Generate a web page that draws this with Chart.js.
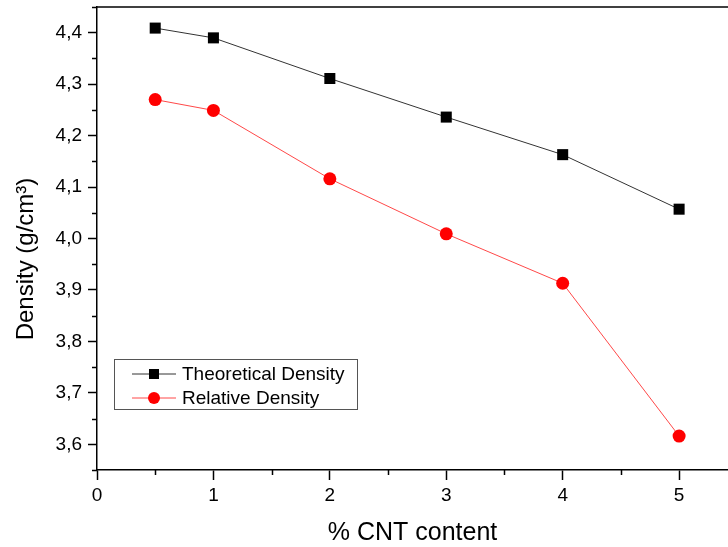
<!DOCTYPE html>
<html>
<head>
<meta charset="utf-8">
<script src="https://cdn.jsdelivr.net/npm/chart.js@4.4.1/dist/chart.umd.min.js"></script>
<style>
  html, body { margin: 0; padding: 0; background: #fff; overflow: hidden; }
  #wrap { width: 728px; height: 547px; }
</style>
</head>
<body>
<div id="wrap"><canvas id="densityChart" width="728" height="547"></canvas></div>
<script>
// Data
const cntContent = [0.5, 1, 2, 3, 4, 5];
const theoreticalDensity = [4.409, 4.390, 4.311, 4.236, 4.163, 4.057];
const relativeDensity = [4.270, 4.249, 4.116, 4.009, 3.913, 3.616];

const xTicks = [0, 1, 2, 3, 4, 5];
const xMinorTicks = [0.5, 1.5, 2.5, 3.5, 4.5];
const yTicks = [3.6, 3.7, 3.8, 3.9, 4.0, 4.1, 4.2, 4.3, 4.4];
const yMinorTicks = [3.55, 3.65, 3.75, 3.85, 3.95, 4.05, 4.15, 4.25, 4.35, 4.45];

const seriesLabels = ['Theoretical Density', 'Relative Density'];
const yTitle = 'Density (g/cm³)';

const FONT = 'Arial, "Liberation Sans", sans-serif';

function toPoints(xs, ys) {
    return xs.map((x, i) => ({ x: x, y: ys[i] }));
}

// Short minor ticks, top frame line and the y title (sits a bit below centre in the original)
const framePlugin = {
    id: 'frame',
    afterDraw(chart) {
        const ctx = chart.ctx;
        const ca = chart.chartArea;
        const xs = chart.scales.x;
        const ys = chart.scales.y;
        ctx.save();
        ctx.strokeStyle = '#000';
        ctx.lineWidth = 1.5;
        ctx.beginPath();
        ctx.moveTo(ca.left, ca.top);
        ctx.lineTo(chart.width, ca.top);
        ctx.stroke();

        ctx.beginPath();
        xMinorTicks.forEach(v => {
            const px = Math.round(xs.getPixelForValue(v)) + 0.5;
            ctx.moveTo(px, ca.bottom);
            ctx.lineTo(px, ca.bottom + 5);
        });
        yMinorTicks.forEach(v => {
            const py = Math.round(ys.getPixelForValue(v)) + 0.5;
            ctx.moveTo(ca.left, py);
            ctx.lineTo(ca.left - 5, py);
        });
        ctx.stroke();

        ctx.translate(33, 259);
        ctx.rotate(-Math.PI / 2);
        ctx.fillStyle = '#000';
        ctx.font = '24px ' + FONT;
        ctx.textAlign = 'center';
        ctx.textBaseline = 'alphabetic';
        ctx.fillText(yTitle, 0, 0);
        ctx.restore();
    }
};

// Legend box drawn inside the plot, like the original
const boxLegendPlugin = {
    id: 'boxLegend',
    afterDraw(chart) {
        const ctx = chart.ctx;
        const ca = chart.chartArea;
        const bx = ca.left + 17;
        const by = ca.top + 352;
        const bw = 243;
        const bh = 50;
        ctx.save();
        ctx.strokeStyle = '#555';
        ctx.lineWidth = 1;
        ctx.strokeRect(bx + 0.5, by + 0.5, bw, bh);

        chart.data.datasets.forEach((ds, i) => {
            const rowY = by + 15 + i * 24;
            ctx.strokeStyle = ds.borderColor;
            ctx.lineWidth = 1;
            ctx.beginPath();
            ctx.moveTo(bx + 18, rowY);
            ctx.lineTo(bx + 62, rowY);
            ctx.stroke();

            ctx.fillStyle = ds.pointBackgroundColor;
            if (ds.pointStyle === 'rect') {
                ctx.fillRect(bx + 35, rowY - 5, 10, 10);
            } else {
                ctx.beginPath();
                ctx.arc(bx + 40, rowY, 6, 0, Math.PI * 2);
                ctx.fill();
            }

            ctx.fillStyle = '#000';
            ctx.font = '19px ' + FONT;
            ctx.textBaseline = 'middle';
            ctx.textAlign = 'left';
            ctx.fillText(ds.label, bx + 68, rowY + 1);
        });
        ctx.restore();
    }
};

const chart = new Chart(document.getElementById('densityChart'), {
    type: 'line',
    data: {
        datasets: [
            {
                label: seriesLabels[0],
                data: toPoints(cntContent, theoreticalDensity),
                borderColor: '#333',
                borderWidth: 1,
                pointStyle: 'rect',
                pointRadius: 7.8,
                pointBackgroundColor: '#000',
                pointBorderColor: '#000',
                pointBorderWidth: 0,
                tension: 0
            },
            {
                label: seriesLabels[1],
                data: toPoints(cntContent, relativeDensity),
                borderColor: 'rgba(255, 40, 40, 0.85)',
                borderWidth: 1,
                pointStyle: 'circle',
                pointRadius: 6.5,
                pointBackgroundColor: '#ff0000',
                pointBorderColor: '#ff0000',
                pointBorderWidth: 0,
                tension: 0
            }
        ]
    },
    options: {
        responsive: false,
        animation: false,
        events: [],
        layout: { autoPadding: false, padding: { top: 7, right: 0, bottom: 0, left: 0 } },
        plugins: {
            legend: { display: false },
            tooltip: { enabled: false }
        },
        scales: {
            x: {
                type: 'linear',
                min: 0,
                max: 5.42,
                afterBuildTicks: scale => { scale.ticks = xTicks.map(v => ({ value: v })); },
                afterFit: scale => {
                    scale.height = 77;
                    scale.paddingLeft = 0;
                    scale.paddingRight = 0;
                },
                grid: {
                    drawOnChartArea: false,
                    drawTicks: true,
                    tickLength: 10,
                    tickWidth: 1.5,
                    tickColor: '#000'
                },
                border: { display: true, color: '#000', width: 1.5 },
                ticks: {
                    color: '#000',
                    padding: 4,
                    maxRotation: 0,
                    font: { family: FONT, size: 19 },
                    callback: v => String(v)
                },
                title: {
                    display: true,
                    text: '% CNT content',
                    color: '#000',
                    font: { family: FONT, size: 25, lineHeight: 1 },
                    padding: { top: 0, bottom: 1 }
                }
            },
            y: {
                type: 'linear',
                min: 3.55,
                max: 4.45,
                afterBuildTicks: scale => { scale.ticks = yTicks.map(v => ({ value: v })); },
                afterFit: scale => {
                    scale.width = 97;
                    scale.paddingTop = 0;
                    scale.paddingBottom = 0;
                },
                grid: {
                    drawOnChartArea: false,
                    drawTicks: true,
                    tickLength: 9,
                    tickWidth: 1.5,
                    tickColor: '#000'
                },
                border: { display: true, color: '#000', width: 1.5 },
                ticks: {
                    color: '#000',
                    padding: 6,
                    font: { family: FONT, size: 19 },
                    callback: v => v.toFixed(1).replace('.', ',')
                },
                title: { display: false }
            }
        }
    },
    plugins: [framePlugin, boxLegendPlugin]
});
</script>
</body>
</html>
